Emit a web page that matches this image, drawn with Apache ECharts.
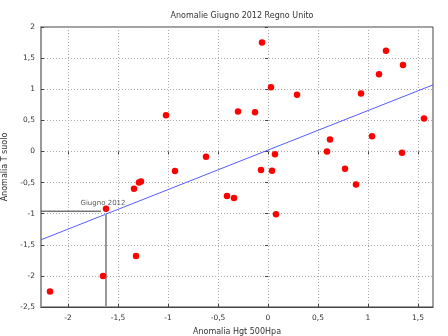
<!DOCTYPE html>
<html>
<head>
<meta charset="utf-8">
<script src="https://cdn.jsdelivr.net/npm/echarts@6/dist/echarts.min.js"></script>
<style>
  html, body { margin: 0; padding: 0; background: #fff; }
  #chart { width: 448px; height: 336px; }
</style>
</head>
<body>
<div id="chart"></div>
<script>
// Anomalia geopotenziale 500 hPa (x) contro anomalia temperatura al suolo (y), giugno
const hgt = [-2.18, -1.65, -1.62, -1.32, -1.34, -1.29, -1.27, -1.02, -0.93, -0.62, -0.41,
             -0.34, -0.30, -0.13, -0.06, -0.07, 0.03, 0.04, 0.07, 0.08, 0.29, 0.59,
             0.62, 0.77, 0.88, 0.93, 1.04, 1.11, 1.18, 1.34, 1.35, 1.56];
const tSuolo = [-2.25, -2.00, -0.92, -1.68, -0.60, -0.50, -0.485, 0.58, -0.315, -0.085, -0.715,
                -0.75, 0.64, 0.63, 1.75, -0.30, 1.03, -0.31, -0.045, -1.01, 0.91, 0.00,
                0.19, -0.28, -0.53, 0.93, 0.245, 1.24, 1.62, -0.02, 1.39, 0.53];

// Valori dei tick
const xTicks = [-2, -1.5, -1, -0.5, 0, 0.5, 1, 1.5];
const yTicks = [-2.5, -2, -1.5, -1, -0.5, 0, 0.5, 1, 1.5, 2];

// Retta di regressione (estremi nel range dell'asse x)
const trendX = [-2.27, 1.65];
const trendY = [-1.42, 1.07];

// Giugno 2012
const giugnoLabel = 'Giugno 2012';
const giugnoX = -1.62;
const giugnoY = -0.92;
const giugnoStimaY = -0.96;   // livello della linea orizzontale
const giugnoFineX = -1.67;    // fine della linea orizzontale
const giugnoRettaY = -1.0;    // punto sulla retta sopra la linea verticale

const xMin = -2.27, xMax = 1.65;
const yMin = -2.5, yMax = 2;

const fmt = v => String(v).replace('.', ',');
const font = 'DejaVu Sans, Verdana, sans-serif';
const points = hgt.map((x, i) => [x, tSuolo[i]]);

const tickStyle = { show: true, inside: true, length: 3, lineStyle: { color: '#444' } };
const gridLine = { show: true, lineStyle: { color: '#aaa', type: [1, 2], width: 1 } };

const chart = echarts.init(document.getElementById('chart'), null, { renderer: 'canvas' });
chart.setOption({
  animation: false,
  backgroundColor: '#fff',
  title: {
    text: 'Anomalie Giugno 2012 Regno Unito',
    left: 237, top: 7, textAlign: 'center',
    textStyle: { fontFamily: font, fontSize: 8, fontWeight: 'normal', color: '#333' }
  },
  grid: {
    left: 41, top: 27, width: 392, height: 280,
    containLabel: false, outerBoundsMode: 'none',
    show: true, borderColor: '#444', borderWidth: 1, backgroundColor: 'transparent'
  },
  xAxis: [{
    type: 'value', min: xMin, max: xMax,
    name: 'Anomalia Hgt 500Hpa', nameLocation: 'middle', nameGap: 21,
    nameTextStyle: { fontFamily: font, fontSize: 8, color: '#333' },
    axisLine: { show: true, onZero: false, lineStyle: { color: '#444', width: 1 } },
    axisTick: Object.assign({ customValues: xTicks }, tickStyle),
    axisLabel: { customValues: xTicks, formatter: fmt, fontFamily: font, fontSize: 7.5,
                 color: '#333', margin: 7 },
    splitLine: gridLine
  }, {
    type: 'value', min: xMin, max: xMax, position: 'top',
    axisLine: { show: false },
    axisTick: Object.assign({ customValues: xTicks }, tickStyle),
    axisLabel: { show: false }, splitLine: { show: false }
  }],
  yAxis: [{
    type: 'value', min: yMin, max: yMax,
    name: 'Anomalia T suolo', nameLocation: 'middle', nameGap: 32, nameRotate: 90,
    nameTextStyle: { fontFamily: font, fontSize: 8, color: '#333' },
    axisLine: { show: true, onZero: false, lineStyle: { color: '#999', width: 2 } },
    axisTick: Object.assign({ customValues: yTicks }, tickStyle),
    axisLabel: { customValues: yTicks, formatter: fmt, fontFamily: font, fontSize: 7.5,
                 color: '#333', margin: 6 },
    splitLine: gridLine
  }, {
    type: 'value', min: yMin, max: yMax, position: 'right',
    axisLine: { show: false },
    axisTick: Object.assign({ customValues: yTicks }, tickStyle),
    axisLabel: { show: false }, splitLine: { show: false }
  }],
  series: [
    {
      name: 'retta', type: 'line', silent: true, symbol: 'none',
      data: trendX.map((x, i) => [x, trendY[i]]),
      lineStyle: { color: '#5a5aff', width: 1 }, z: 3
    },
    {
      name: 'giugno-h', type: 'line', silent: true, symbol: 'none',
      data: [[xMin, giugnoStimaY], [giugnoFineX, giugnoStimaY]],
      lineStyle: { color: '#333', width: 1 }, z: 4
    },
    {
      name: 'giugno-v', type: 'line', silent: true, symbol: 'none',
      data: [[giugnoX, yMin], [giugnoX, giugnoRettaY]],
      lineStyle: { color: '#999', width: 2 }, z: 4
    },
    {
      name: 'anomalie', type: 'scatter', symbol: 'circle', symbolSize: 6.5,
      data: points,
      itemStyle: { color: '#ff0000', opacity: 1 }, z: 5
    },
    {
      name: 'etichetta', type: 'scatter', symbolSize: 0,
      data: [[giugnoX, giugnoY]],
      label: {
        show: true, position: 'top', distance: 2, offset: [-3, 0],
        formatter: giugnoLabel,
        fontFamily: font, fontSize: 7, color: '#333'
      }, z: 6
    }
  ]
});
</script>
</body>
</html>
